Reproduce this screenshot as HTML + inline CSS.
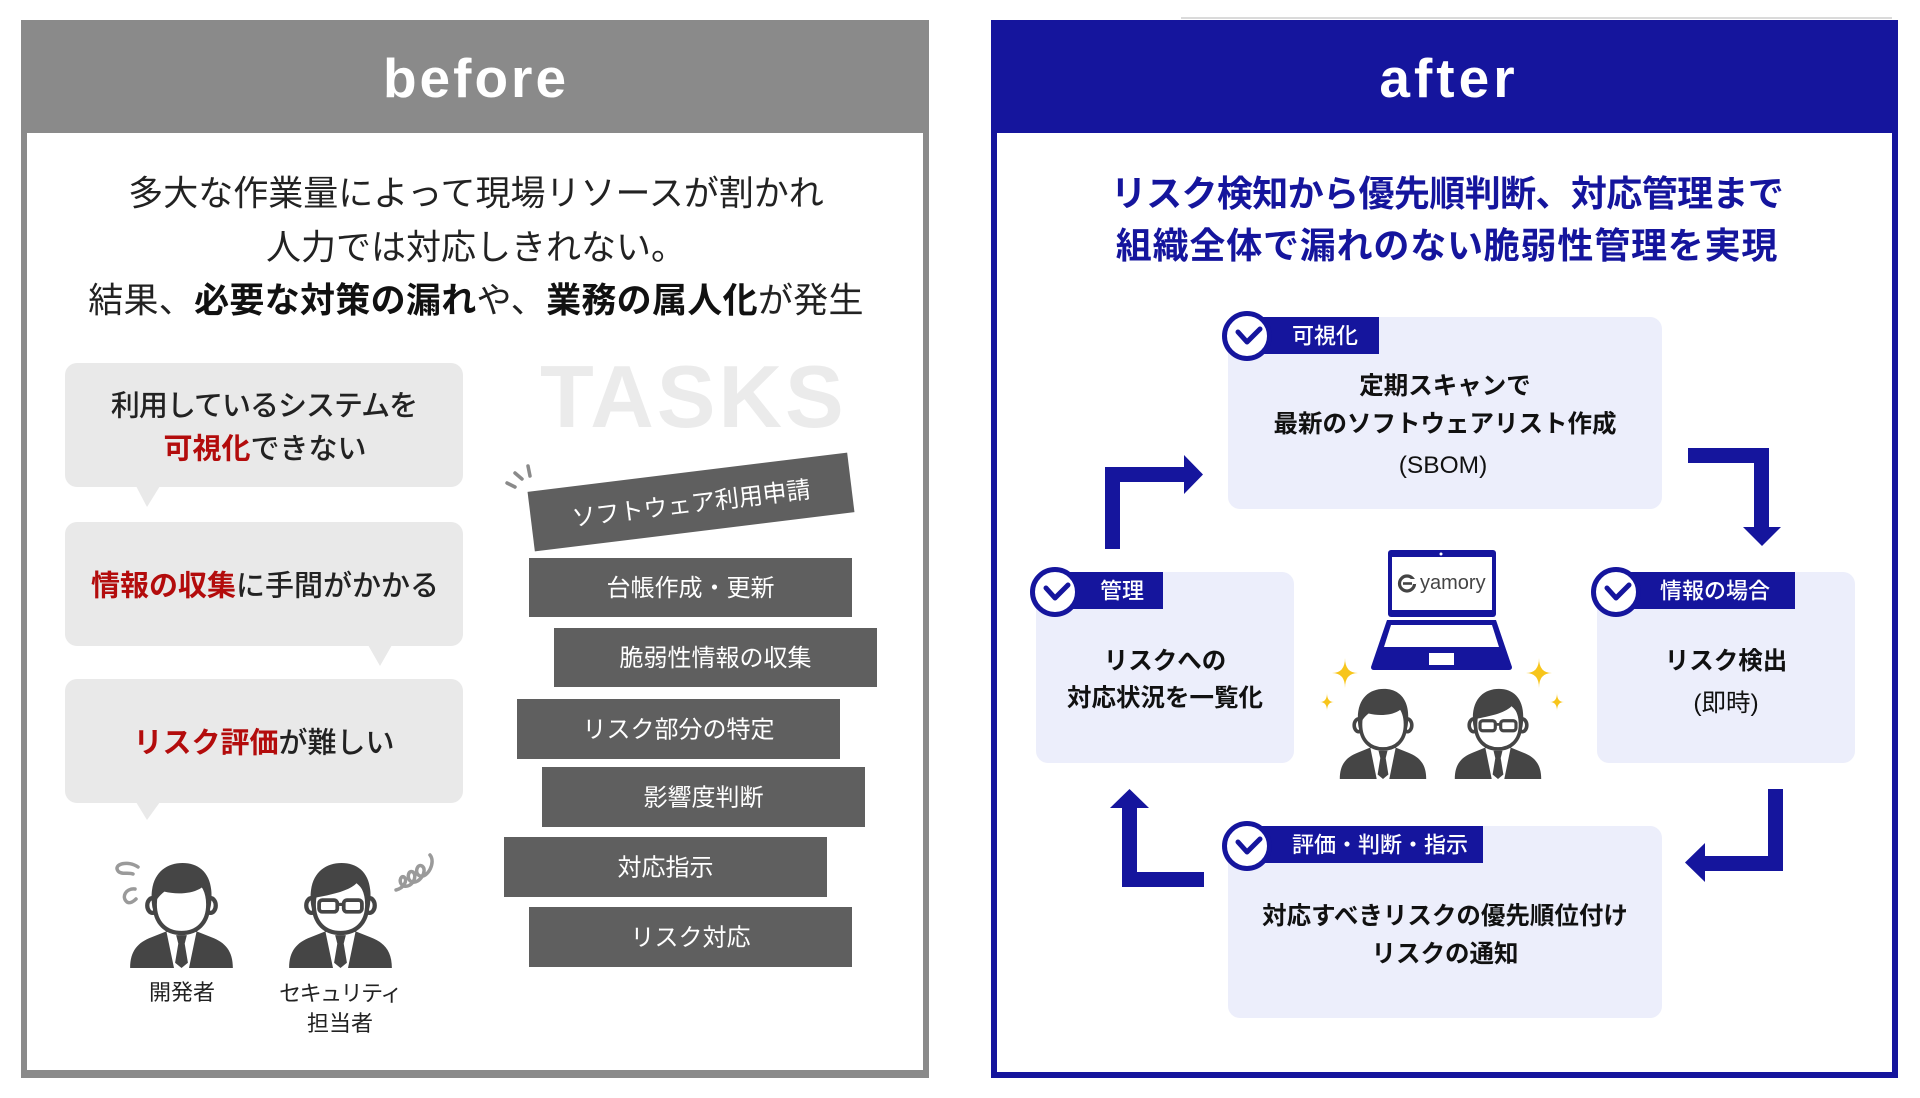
<!DOCTYPE html>
<html><head><meta charset="utf-8">
<style>
html,body{margin:0;padding:0;background:#fff;}
#c{position:relative;width:1920px;height:1098px;overflow:hidden;}
svg{position:absolute;left:0;top:0;}
svg text{font-family:"Liberation Sans","Noto Sans CJK JP",sans-serif;}
</style></head><body><div id="c">
<svg width="1920" height="1098" viewBox="0 0 1920 1098">
 <!-- BEFORE PANEL -->
 <rect x="21" y="20" width="908" height="1058" fill="#8a8a8a"/>
 <rect x="27" y="133" width="896" height="937" fill="#fff"/>
 <text x="476" y="97" text-anchor="middle" font-size="55" font-weight="bold" fill="#fff" letter-spacing="3">before</text>

 <g font-size="35" fill="#222" text-anchor="middle">
  <text x="476" y="205.6">多大な作業量によって現場リソースが割かれ</text>
  <text x="476" y="259.6">人力では対応しきれない。</text>
  <text x="476" y="312.6" letter-spacing="0.3">結果、<tspan font-weight="bold" fill="#111">必要な対策の漏れ</tspan>や、<tspan font-weight="bold" fill="#111">業務の属人化</tspan>が発生</text>
 </g>

 <!-- bubbles -->
 <g fill="#e9e9e9">
  <rect x="65" y="363" width="398" height="124" rx="12"/>
  <polygon points="136,486 160,486 147,507"/>
  <rect x="65" y="522" width="398" height="124" rx="12"/>
  <polygon points="368,645 392,645 380,666"/>
  <rect x="65" y="679" width="398" height="124" rx="12"/>
  <polygon points="136,802 160,802 147,820"/>
 </g>
 <g font-size="29" fill="#222" text-anchor="middle" font-weight="500">
  <text x="264" y="415.4" letter-spacing="-1">利用しているシステムを</text>
  <text x="265" y="458.4"><tspan fill="#b30c0c" font-weight="bold">可視化</tspan>できない</text>
  <text x="265" y="595.4"><tspan fill="#b30c0c" font-weight="bold">情報の収集</tspan>に手間がかかる</text>
  <text x="264" y="752.4"><tspan fill="#b30c0c" font-weight="bold">リスク評価</tspan>が難しい</text>
 </g>

 <!-- TASKS -->
 <text x="540" y="427" font-size="88" font-weight="bold" fill="#ebebeb" letter-spacing="3" style="font-family:'Liberation Sans',sans-serif">TASKS</text>
 <g stroke="#8a8a8a" stroke-width="3.5" stroke-linecap="round">
  <line x1="507" y1="483" x2="515" y2="487"/>
  <line x1="515" y1="473" x2="522" y2="479"/>
  <line x1="528" y1="466" x2="530" y2="476"/>
 </g>
 <g transform="rotate(-7 691 502)">
  <rect x="530" y="472" width="322" height="60" fill="#5f5f5f"/>
  <text x="691" y="512" text-anchor="middle" font-size="24" fill="#fff">ソフトウェア利用申請</text>
 </g>
 <g fill="#5f5f5f">
  <rect x="529" y="558" width="323" height="59"/>
  <rect x="554" y="628" width="323" height="59"/>
  <rect x="517" y="699" width="323" height="60"/>
  <rect x="542" y="767" width="323" height="60"/>
  <rect x="504" y="837" width="323" height="60"/>
  <rect x="529" y="907" width="323" height="60"/>
 </g>
 <g font-size="24" fill="#fff" text-anchor="middle">
  <text x="690.5" y="596">台帳作成・更新</text>
  <text x="715.5" y="666">脆弱性情報の収集</text>
  <text x="678.5" y="737.6">リスク部分の特定</text>
  <text x="703.5" y="805.6">影響度判断</text>
  <text x="665.5" y="875.6">対応指示</text>
  <text x="690.5" y="945.6">リスク対応</text>
 </g>

 <!-- before people -->
 <g fill="none" stroke="#9a9a9a" stroke-width="3.5" stroke-linecap="round">
  <path d="M138,867 C128,860 113,864 118,871 C121,875 128,872 133,874"/>
  <path d="M135,889 C126,888 121,897 127,902 C130,904 134,901 136,899"/>
  <path d="M396,890 C404,888 408,880 404,877 C400,875 398,884 404,886 C412,888 418,876 413,872 C408,869 406,880 412,882 C420,884 428,870 422,866 C417,863 414,874 420,876 C428,878 436,862 430,855"/>
 </g>
 <svg x="128" y="862" width="107" height="106" viewBox="0 0 100 100" preserveAspectRatio="none">
  <path d="M2,100 C2,84 9,76 22,71 L37,65 L63,65 L78,71 C91,76 98,84 98,100 Z" fill="#454545"/>
  <polygon points="36,66 64,66 57,100 43,100" fill="#fff"/>
  <polygon points="45,69 55,69 53,77 56,95 50,100 44,95 47,77" fill="#454545"/>
  <ellipse cx="23" cy="41" rx="5" ry="7" fill="#fff" stroke="#454545" stroke-width="4"/>
  <ellipse cx="77" cy="41" rx="5" ry="7" fill="#fff" stroke="#454545" stroke-width="4"/>
  <path d="M25,40 C25,58 36,67 50,67 C64,67 75,58 75,40 C75,22 64,11 50,11 C36,11 25,22 25,40 Z" fill="#fff" stroke="#454545" stroke-width="4"/>
  <path d="M23,44 C18,14 33,1 51,1 C69,1 82,14 77,44 C76,34 73,28 69,24 C61,30 46,31 34,28 C29,32 25,37 23,44 Z" fill="#454545"/>
 </svg>
 <svg x="287" y="862" width="107" height="106" viewBox="0 0 100 100" preserveAspectRatio="none">
  <path d="M2,100 C2,84 9,76 22,71 L37,65 L63,65 L78,71 C91,76 98,84 98,100 Z" fill="#454545"/>
  <polygon points="36,66 64,66 57,100 43,100" fill="#fff"/>
  <polygon points="45,69 55,69 53,77 56,95 50,100 44,95 47,77" fill="#454545"/>
  <ellipse cx="23" cy="41" rx="5" ry="7" fill="#fff" stroke="#454545" stroke-width="4"/>
  <ellipse cx="77" cy="41" rx="5" ry="7" fill="#fff" stroke="#454545" stroke-width="4"/>
  <path d="M25,40 C25,58 36,67 50,67 C64,67 75,58 75,40 C75,22 64,11 50,11 C36,11 25,22 25,40 Z" fill="#fff" stroke="#454545" stroke-width="4"/>
  <path d="M23,44 C18,14 33,1 51,1 C69,1 82,14 77,44 C75,32 71,25 65,20 C57,28 40,31 25,34 C24,37 23,40 23,44 Z" fill="#454545"/>
  <rect x="30" y="36" width="17" height="11" rx="3" fill="none" stroke="#454545" stroke-width="3.5"/>
  <rect x="53" y="36" width="17" height="11" rx="3" fill="none" stroke="#454545" stroke-width="3.5"/>
  <line x1="47" y1="40" x2="53" y2="40" stroke="#454545" stroke-width="3"/>
 </svg>
 <g font-size="22" fill="#222" text-anchor="middle">
  <text x="182" y="1000">開発者</text>
  <text x="340" y="1001" letter-spacing="-1.5">セキュリティ</text>
  <text x="340" y="1031">担当者</text>
 </g>

 <!-- AFTER PANEL -->
 <rect x="1181" y="17" width="711" height="2" fill="#dadada"/>
 <rect x="991" y="20" width="907" height="1058" fill="#15159d"/>
 <rect x="997" y="133" width="895" height="939" fill="#fff"/>
 <text x="1449" y="97" text-anchor="middle" font-size="55" font-weight="bold" fill="#fff" letter-spacing="4">after</text>
 <g font-size="36" font-weight="bold" fill="#15159d" text-anchor="middle">
  <text x="1447" y="206" letter-spacing="-0.6">リスク検知から優先順判断、対応管理まで</text>
  <text x="1447" y="258" letter-spacing="0.8">組織全体で漏れのない脆弱性管理を実現</text>
 </g>

 <!-- boxes -->
 <g fill="#eceefb">
  <rect x="1228" y="317" width="434" height="192" rx="12"/>
  <rect x="1036" y="572" width="258" height="191" rx="12"/>
  <rect x="1597" y="572" width="258" height="191" rx="12"/>
  <rect x="1228" y="826" width="434" height="192" rx="12"/>
 </g>
 <!-- tags -->
 <g fill="#15159d">
  <rect x="1247" y="317" width="132" height="37"/>
  <rect x="1055" y="572" width="108" height="37"/>
  <rect x="1616" y="572" width="179" height="37"/>
  <rect x="1247" y="826" width="236" height="37"/>
 </g>
 <g fill="#fff" stroke="#15159d" stroke-width="5">
  <circle cx="1247" cy="336" r="22.5"/>
  <circle cx="1055" cy="592" r="22.5"/>
  <circle cx="1616" cy="592" r="22.5"/>
  <circle cx="1247" cy="846" r="22.5"/>
 </g>
 <g fill="none" stroke="#15159d" stroke-width="5" stroke-linecap="round" stroke-linejoin="round">
  <polyline points="1238,332 1247,342 1260,329"/>
  <polyline points="1046,588 1055,598 1068,585"/>
  <polyline points="1607,588 1616,598 1629,585"/>
  <polyline points="1238,842 1247,852 1260,839"/>
 </g>
 <g font-size="22" fill="#fff" font-weight="500">
  <text x="1292" y="343.5">可視化</text>
  <text x="1100" y="598.5">管理</text>
  <text x="1660" y="598.5">情報の場合</text>
  <text x="1292" y="852.5">評価・判断・指示</text>
 </g>
 <g font-size="24.5" fill="#111" text-anchor="middle">
  <text x="1445" y="394" font-weight="bold">定期スキャンで</text>
  <text x="1445" y="432" font-weight="bold">最新のソフトウェアリスト作成</text>
  <text x="1443" y="473">(SBOM)</text>
  <text x="1165" y="669" font-weight="bold">リスクへの</text>
  <text x="1165" y="706" font-weight="bold">対応状況を一覧化</text>
  <text x="1726" y="669" font-weight="bold">リスク検出</text>
  <text x="1726" y="711">(即時)</text>
  <text x="1445" y="924" font-weight="bold">対応すべきリスクの優先順位付け</text>
  <text x="1445" y="962" font-weight="bold">リスクの通知</text>
 </g>

 <!-- arrows -->
 <g fill="#15159d">
  <rect x="1105" y="467" width="15" height="82"/>
  <rect x="1105" y="467" width="80" height="15"/>
  <polygon points="1184,455 1203,474.5 1184,494"/>

  <rect x="1688" y="448" width="81" height="15"/>
  <rect x="1754" y="448" width="15" height="80"/>
  <polygon points="1743,527 1781,527 1762,546"/>

  <rect x="1768" y="789" width="15" height="82"/>
  <rect x="1704" y="856" width="79" height="15"/>
  <polygon points="1705,843 1705,882 1685,862.5"/>

  <rect x="1122" y="807" width="15" height="80"/>
  <rect x="1122" y="872" width="82" height="15"/>
  <polygon points="1110,808 1149,808 1129.5,789"/>
 </g>

 <!-- laptop -->
 <rect x="1388" y="550" width="108" height="67" rx="3" fill="#15159d"/>
 <rect x="1392" y="557" width="100" height="53" fill="#fff"/>
 <circle cx="1441" cy="554" r="1.5" fill="#fff"/>
 <path d="M1387,620 L1496,620 L1512,667 Q1512,670 1509,670 L1374,670 Q1371,670 1371,667 Z" fill="#15159d"/>
 <polygon points="1391,625 1492,625 1499,647 1384,647" fill="#fff"/>
 <rect x="1429" y="653" width="25" height="12" fill="#fff"/>
 <circle cx="1407" cy="583.5" r="7.5" fill="none" stroke="#444" stroke-width="3.2"/>
 <rect x="1407" y="579" width="9" height="5" fill="#fff"/>
 <line x1="1403" y1="583.5" x2="1412" y2="583.5" stroke="#444" stroke-width="2.6"/>
 <text x="1420" y="589" font-size="20" fill="#444" style="font-family:'Liberation Sans',sans-serif">yamory</text>

 <!-- sparkles -->
 <g fill="#f7c51b">
  <path d="M1345,658 Q1345,673 1358,673 Q1345,673 1345,688 Q1345,673 1332,673 Q1345,673 1345,658 Z"/>
  <path d="M1327,693 Q1327,702 1334,702 Q1327,702 1327,711 Q1327,702 1320,702 Q1327,702 1327,693 Z"/>
  <path d="M1539,658 Q1539,673 1552,673 Q1539,673 1539,688 Q1539,673 1526,673 Q1539,673 1539,658 Z"/>
  <path d="M1557,693 Q1557,702 1564,702 Q1557,702 1557,711 Q1557,702 1550,702 Q1557,702 1557,693 Z"/>
 </g>

 <!-- after people -->
 <svg x="1338" y="688" width="90" height="91" viewBox="0 0 100 100" preserveAspectRatio="none">
  <path d="M2,100 C2,84 9,76 22,71 L37,65 L63,65 L78,71 C91,76 98,84 98,100 Z" fill="#454545"/>
  <polygon points="36,66 64,66 57,100 43,100" fill="#fff"/>
  <polygon points="45,69 55,69 53,77 56,95 50,100 44,95 47,77" fill="#454545"/>
  <ellipse cx="23" cy="41" rx="5" ry="7" fill="#fff" stroke="#454545" stroke-width="4"/>
  <ellipse cx="77" cy="41" rx="5" ry="7" fill="#fff" stroke="#454545" stroke-width="4"/>
  <path d="M25,40 C25,58 36,67 50,67 C64,67 75,58 75,40 C75,22 64,11 50,11 C36,11 25,22 25,40 Z" fill="#fff" stroke="#454545" stroke-width="4"/>
  <path d="M23,44 C18,14 33,1 51,1 C69,1 82,14 77,44 C76,34 73,28 69,24 C61,30 46,31 34,28 C29,32 25,37 23,44 Z" fill="#454545"/>
 </svg>
 <svg x="1453" y="688" width="90" height="91" viewBox="0 0 100 100" preserveAspectRatio="none">
  <path d="M2,100 C2,84 9,76 22,71 L37,65 L63,65 L78,71 C91,76 98,84 98,100 Z" fill="#454545"/>
  <polygon points="36,66 64,66 57,100 43,100" fill="#fff"/>
  <polygon points="45,69 55,69 53,77 56,95 50,100 44,95 47,77" fill="#454545"/>
  <ellipse cx="23" cy="41" rx="5" ry="7" fill="#fff" stroke="#454545" stroke-width="4"/>
  <ellipse cx="77" cy="41" rx="5" ry="7" fill="#fff" stroke="#454545" stroke-width="4"/>
  <path d="M25,40 C25,58 36,67 50,67 C64,67 75,58 75,40 C75,22 64,11 50,11 C36,11 25,22 25,40 Z" fill="#fff" stroke="#454545" stroke-width="4"/>
  <path d="M23,44 C18,14 33,1 51,1 C69,1 82,14 77,44 C75,32 71,25 65,20 C57,28 40,31 25,34 C24,37 23,40 23,44 Z" fill="#454545"/>
  <rect x="30" y="36" width="17" height="11" rx="3" fill="none" stroke="#454545" stroke-width="3.5"/>
  <rect x="53" y="36" width="17" height="11" rx="3" fill="none" stroke="#454545" stroke-width="3.5"/>
  <line x1="47" y1="40" x2="53" y2="40" stroke="#454545" stroke-width="3"/>
 </svg>
</svg>
</div></body></html>
